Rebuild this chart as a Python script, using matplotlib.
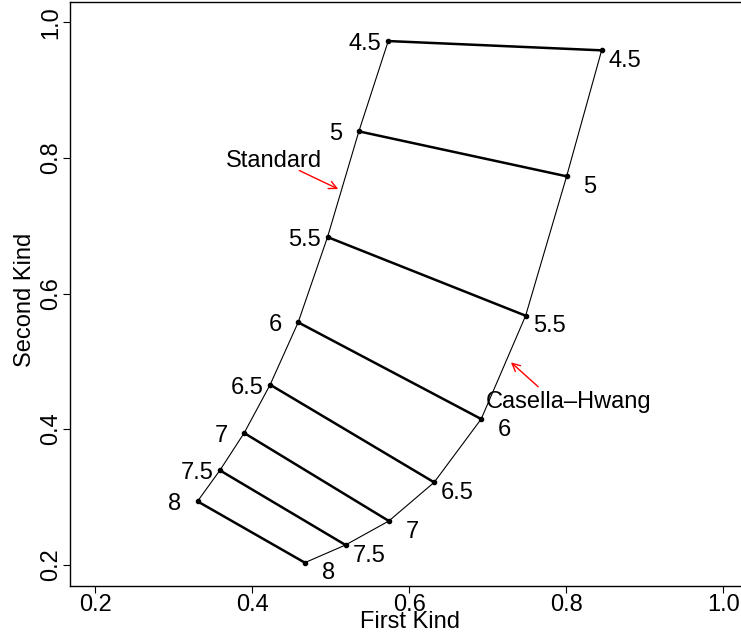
import matplotlib

matplotlib.use("Agg")
import matplotlib.pyplot as plt

plt.rcParams["font.family"] = ["Liberation Sans", "DejaVu Sans"]

# k values labelling the points on both curves
levels = [4.5, 5, 5.5, 6, 6.5, 7, 7.5, 8]

# risk of the first / second kind
standard_x = [0.5733, 0.5359, 0.4960, 0.4586, 0.4229, 0.3898, 0.3589, 0.3304]
standard_y = [0.9724, 0.8392, 0.6833, 0.5575, 0.4655, 0.3943, 0.3392, 0.2935]
casella_x = [0.8451, 0.8005, 0.7483, 0.6917, 0.6318, 0.5741, 0.5189, 0.4671]
casella_y = [0.9587, 0.7729, 0.5673, 0.4149, 0.3215, 0.2645, 0.2291, 0.2030]

ticks = [0.2, 0.4, 0.6, 0.8, 1.0]
tick_labels = ["0.2", "0.4", "0.6", "0.8", "1.0"]

# curve names and their pointer arrows
standard_text = (0.4276, 0.787)
standard_arrow = ((0.4601, 0.7814), (0.5096, 0.7541))
casella_text = (0.8026, 0.4307)
casella_arrow = ((0.7643, 0.4625), (0.7296, 0.4985))

FS = 17

fig = plt.figure(figsize=(7.41, 6.36), dpi=100)
# right edge of the box sits just past the picture, as in the original
ax = fig.add_axes([70 / 741, 1 - 586 / 636, 682 / 741, 584 / 636])

# thin lines along each curve
ax.plot(standard_x, standard_y, color="black", lw=0.8)
ax.plot(casella_x, casella_y, color="black", lw=0.8)
# thick lines joining equal k
for sx, sy, cx, cy in zip(standard_x, standard_y, casella_x, casella_y):
    ax.plot([sx, cx], [sy, cy], color="black", lw=1.8, solid_capstyle="butt")
ax.plot(standard_x, standard_y, "o", color="black", ms=3)
ax.plot(casella_x, casella_y, "o", color="black", ms=3)

for k, sx, sy, cx, cy in zip(levels, standard_x, standard_y, casella_x, casella_y):
    lab = "%g" % k
    ax.annotate(lab, (sx, sy), xytext=(-16.6, -6.5), textcoords="offset points",
                ha="center", va="baseline", fontsize=FS)
    ax.annotate(lab, (cx, cy), xytext=(16.9, -11.9), textcoords="offset points",
                ha="center", va="baseline", fontsize=FS)

ax.text(*standard_text, "Standard", ha="center", va="baseline", fontsize=FS)
ax.text(*casella_text, "Casella\u2013Hwang", ha="center", va="baseline", fontsize=FS)
for (start, end) in (standard_arrow, casella_arrow):
    ax.annotate("", xy=end, xytext=start,
                arrowprops=dict(arrowstyle="->", color="red", lw=1,
                                shrinkA=0, shrinkB=0, mutation_scale=14))

ax.set_xlim(0.168, 1.0366)
ax.set_ylim(0.1686, 1.030)
ax.set_xticks(ticks)
ax.set_xticklabels(tick_labels)
ax.set_yticks(ticks)
ax.set_yticklabels(tick_labels, rotation=90, va="center")
ax.tick_params(direction="out", length=5, width=0.8, labelsize=FS, pad=0.5)
for sp in ax.spines.values():
    sp.set_linewidth(1)

ax.set_xlabel("First Kind", fontsize=FS, va="baseline")
ax.xaxis.set_label_coords(340 / 682, -0.0724)
ax.set_ylabel("Second Kind", fontsize=FS, va="baseline")
ax.yaxis.set_label_coords(-0.057, 0.49)

fig.savefig("out.png", dpi=100)
